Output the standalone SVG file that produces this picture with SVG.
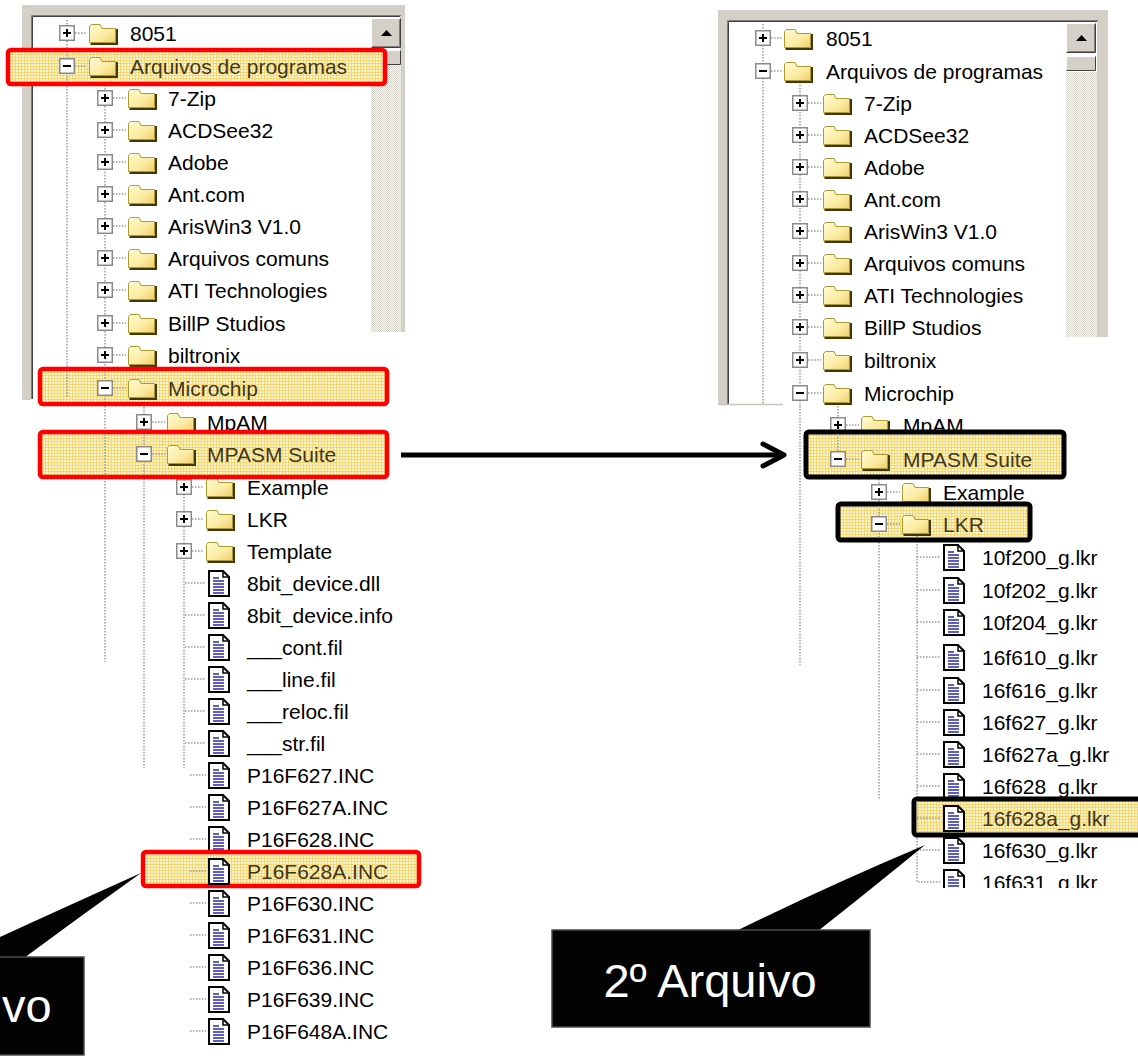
<svg xmlns="http://www.w3.org/2000/svg" xmlns:xlink="http://www.w3.org/1999/xlink" width="1138" height="1056" viewBox="0 0 1138 1056">
<style>
.t{font-family:"Liberation Sans",Arial,sans-serif;font-size:21px;fill:#000}
.th{fill:#3e381c}
.dl{stroke:#9a9a9a;stroke-width:1.5;stroke-dasharray:1.5 1.5;fill:none}
.rb{fill:url(#hl);stroke:#ff0000;stroke-width:4.5}
.bb{fill:url(#hl);stroke:#000;stroke-width:5}
.co{font-family:"Liberation Sans",Arial,sans-serif;font-size:47px;fill:#fff}
.gray{fill:#d4d0c8}
.cal{fill:#030303;stroke:#4a4a4a;stroke-width:1.5}
</style>
<defs>
<pattern id="hl" width="3" height="3" patternUnits="userSpaceOnUse"><rect width="3" height="3" fill="#fff6d2"/><rect width="3" height="1" fill="#f7d672"/><rect width="1" height="3" fill="#f7d672"/></pattern>
<pattern id="ck" width="2" height="2" patternUnits="userSpaceOnUse"><rect width="2" height="2" fill="#fff"/><rect width="1" height="1" fill="#d4d0c8"/><rect x="1" y="1" width="1" height="1" fill="#d4d0c8"/></pattern>
<linearGradient id="fg" x1="0" y1="0" x2="1" y2="1"><stop offset="0" stop-color="#fffcd4"/><stop offset="0.6" stop-color="#fbeaa0"/><stop offset="1" stop-color="#efcf6c"/></linearGradient>
<marker id="ah" viewBox="0 0 30 30" refX="26" refY="15" markerWidth="30" markerHeight="30" markerUnits="userSpaceOnUse" orient="auto"><path d="M5 4 L26 15 L5 26" fill="none" stroke="#000" stroke-width="5" stroke-linecap="round" stroke-linejoin="round"/></marker>
<g id="pl"><rect x="0.75" y="0.75" width="14.5" height="14.5" fill="#fff" stroke="#8a8a8a" stroke-width="1.5"/><path d="M4 8H12M8 4V12" stroke="#000" stroke-width="2"/></g>
<g id="mi"><rect x="0.75" y="0.75" width="14.5" height="14.5" fill="#fff" stroke="#8a8a8a" stroke-width="1.5"/><path d="M4 8H12" stroke="#000" stroke-width="2"/></g>
<g id="fd"><path d="M1.5 5.5 V21.5 H27.5 V7.5 H14 L12 3.5 H3.5 Z" fill="url(#fg)" stroke="#b09a30" stroke-width="1"/><path d="M2.5 23 H29 V8" fill="none" stroke="#3f3800" stroke-width="2"/></g>
<g id="fi"><path d="M1 1 H15 L21 7 V26 H1 Z" fill="#fff" stroke="#000" stroke-width="2"/><path d="M15 1 V7 H21" fill="none" stroke="#000" stroke-width="1.5"/><path d="M5 8H11M5 11H16M5 14H16M5 17H16M5 20H16M5 23H16" stroke="#2a2aa8" stroke-width="1.5"/></g>
<g id="btn"><rect width="30" height="30" fill="#d4d0c8"/><path d="M0.5 29.5V0.5H29.5" stroke="#fff" fill="none"/><path d="M0.5 29.5H29.5V0.5" stroke="#404040" fill="none"/><path d="M1.5 28.5H28.5V1.5" stroke="#808080" fill="none"/><path d="M10 18H21L15.5 12Z" fill="#000"/></g>
<g id="thumb"><rect width="30" height="15" fill="#d4d0c8"/><path d="M0.5 14.5V0.5H29.5" stroke="#fff" fill="none"/><path d="M0.5 14.5H29.5V0.5" stroke="#404040" fill="none"/></g>
<clipPath id="rclip"><rect x="700" y="0" width="438" height="888"/></clipPath>
</defs>
<rect width="1138" height="1056" fill="#fff"/>

<!-- LEFT WINDOW FRAME -->
<g id="left-window">
<rect class="gray" x="22" y="5" width="383" height="10"/>
<rect class="gray" x="22" y="5" width="9" height="395"/>
<rect class="gray" x="400" y="5" width="5" height="327"/>
<path d="M31.5 399V15.5H401" stroke="#808080" fill="none"/>
<path d="M32.5 399V16.5H400" stroke="#404040" fill="none"/>
<use href="#btn" x="371" y="18"/>
<use href="#thumb" x="371" y="50"/>
<rect x="371" y="65" width="30" height="267" fill="url(#ck)"/>
</g>

<!-- RIGHT WINDOW FRAME -->
<g id="right-window">
<rect class="gray" x="718" y="10" width="390" height="10"/>
<rect class="gray" x="718" y="10" width="9" height="395"/>
<rect class="gray" x="1097" y="10" width="11" height="327"/>
<path d="M727.5 405V20.5H1098" stroke="#808080" fill="none"/>
<path d="M728.5 405V21.5H1097" stroke="#404040" fill="none"/>
<path d="M718 404.5H783" stroke="#c8c4bc" stroke-width="1.5"/>
<use href="#btn" x="1066" y="23"/>
<use href="#thumb" x="1066" y="56"/>
<rect x="1066" y="72" width="31" height="265" fill="url(#ck)"/>
</g>

<!-- LEFT TREE -->
<g id="left-tree">
<g id="left-tree-lines">
<path class="dl" d="M67 20V398M105 76V662M144 398V768M184 464V768"/>
</g>
<g id="l-8051"><use href="#pl" x="59" y="25"/><path class="dl" d="M75 33H87"/><use href="#fd" x="88" y="21"/><text class="t" x="130" y="41">8051</text></g>
<g id="l-7zip"><use href="#pl" x="97" y="90"/><path class="dl" d="M113 98H126"/><use href="#fd" x="127" y="86"/><text class="t" x="168" y="106">7-Zip</text></g>
<g id="l-acdsee"><use href="#pl" x="97" y="122"/><path class="dl" d="M113 130H126"/><use href="#fd" x="127" y="118"/><text class="t" x="168" y="138">ACDSee32</text></g>
<g id="l-adobe"><use href="#pl" x="97" y="154"/><path class="dl" d="M113 162H126"/><use href="#fd" x="127" y="150"/><text class="t" x="168" y="170">Adobe</text></g>
<g id="l-antcom"><use href="#pl" x="97" y="186"/><path class="dl" d="M113 194H126"/><use href="#fd" x="127" y="182"/><text class="t" x="168" y="202">Ant.com</text></g>
<g id="l-ariswin"><use href="#pl" x="97" y="218"/><path class="dl" d="M113 226H126"/><use href="#fd" x="127" y="214"/><text class="t" x="168" y="234">ArisWin3 V1.0</text></g>
<g id="l-arqcomuns"><use href="#pl" x="97" y="250"/><path class="dl" d="M113 258H126"/><use href="#fd" x="127" y="246"/><text class="t" x="168" y="266">Arquivos comuns</text></g>
<g id="l-ati"><use href="#pl" x="97" y="282"/><path class="dl" d="M113 290H126"/><use href="#fd" x="127" y="278"/><text class="t" x="168" y="298">ATI Technologies</text></g>
<g id="l-billp"><use href="#pl" x="97" y="315"/><path class="dl" d="M113 323H126"/><use href="#fd" x="127" y="311"/><text class="t" x="168" y="331">BillP Studios</text></g>
<g id="l-biltronix"><use href="#pl" x="97" y="347"/><path class="dl" d="M113 355H126"/><use href="#fd" x="127" y="343"/><text class="t" x="168" y="363">biltronix</text></g>
<g id="l-mpam"><use href="#pl" x="136" y="414"/><path class="dl" d="M152 422H165"/><use href="#fd" x="166" y="410"/><text class="t" x="207" y="430">MpAM</text></g>
<g id="l-example"><use href="#pl" x="176" y="479"/><path class="dl" d="M192 487H204"/><use href="#fd" x="205" y="475"/><text class="t" x="247" y="495">Example</text></g>
<g id="l-lkr"><use href="#pl" x="176" y="511"/><path class="dl" d="M192 519H204"/><use href="#fd" x="205" y="507"/><text class="t" x="247" y="527">LKR</text></g>
<g id="l-template"><use href="#pl" x="176" y="543"/><path class="dl" d="M192 551H204"/><use href="#fd" x="205" y="539"/><text class="t" x="247" y="559">Template</text></g>
<g id="l-dll"><path class="dl" d="M185 583H206"/><use href="#fi" x="208" y="570"/><text class="t" x="247" y="591">8bit_device.dll</text></g>
<g id="l-info"><path class="dl" d="M185 615H206"/><use href="#fi" x="208" y="602"/><text class="t" x="247" y="623">8bit_device.info</text></g>
<g id="l-cont"><path class="dl" d="M185 647H206"/><use href="#fi" x="208" y="634"/><text class="t" x="247" y="655">___cont.fil</text></g>
<g id="l-line"><path class="dl" d="M185 679H206"/><use href="#fi" x="208" y="666"/><text class="t" x="247" y="687">___line.fil</text></g>
<g id="l-reloc"><path class="dl" d="M185 711H206"/><use href="#fi" x="208" y="698"/><text class="t" x="247" y="719">___reloc.fil</text></g>
<g id="l-str"><path class="dl" d="M185 743H206"/><use href="#fi" x="208" y="730"/><text class="t" x="247" y="751">___str.fil</text></g>
<g id="l-p627"><path class="dl" d="M190 775H206"/><use href="#fi" x="208" y="762"/><text class="t" x="247" y="783">P16F627.INC</text></g>
<g id="l-p627a"><path class="dl" d="M190 807H206"/><use href="#fi" x="208" y="794"/><text class="t" x="247" y="815">P16F627A.INC</text></g>
<g id="l-p628"><path class="dl" d="M190 839H206"/><use href="#fi" x="208" y="826"/><text class="t" x="247" y="847">P16F628.INC</text></g>
<g id="l-p630"><path class="dl" d="M190 903H206"/><use href="#fi" x="208" y="890"/><text class="t" x="247" y="911">P16F630.INC</text></g>
<g id="l-p631"><path class="dl" d="M190 935H206"/><use href="#fi" x="208" y="922"/><text class="t" x="247" y="943">P16F631.INC</text></g>
<g id="l-p636"><path class="dl" d="M190 967H206"/><use href="#fi" x="208" y="954"/><text class="t" x="247" y="975">P16F636.INC</text></g>
<g id="l-p639"><path class="dl" d="M190 999H206"/><use href="#fi" x="208" y="986"/><text class="t" x="247" y="1007">P16F639.INC</text></g>
<g id="l-p648a"><path class="dl" d="M190 1031H206"/><use href="#fi" x="208" y="1018"/><text class="t" x="247" y="1039">P16F648A.INC</text></g>
</g>

<!-- RIGHT TREE -->
<g id="right-tree" clip-path="url(#rclip)">
<g id="right-tree-lines">
<path class="dl" d="M763 24V404M800 82V665M838 403V459M879 470V800M917 535V882H940"/>
</g>
<g id="r-8051"><use href="#pl" x="755" y="30"/><path class="dl" d="M771 38H782"/><use href="#fd" x="783" y="26"/><text class="t" x="826" y="46">8051</text></g>
<g id="r-arqprog"><use href="#mi" x="755" y="63"/><path class="dl" d="M771 71H782"/><use href="#fd" x="783" y="59"/><text class="t" x="826" y="79">Arquivos de programas</text></g>
<g id="r-7zip"><use href="#pl" x="792" y="95"/><path class="dl" d="M808 103H821"/><use href="#fd" x="822" y="91"/><text class="t" x="864" y="111">7-Zip</text></g>
<g id="r-acdsee"><use href="#pl" x="792" y="127"/><path class="dl" d="M808 135H821"/><use href="#fd" x="822" y="123"/><text class="t" x="864" y="143">ACDSee32</text></g>
<g id="r-adobe"><use href="#pl" x="792" y="159"/><path class="dl" d="M808 167H821"/><use href="#fd" x="822" y="155"/><text class="t" x="864" y="175">Adobe</text></g>
<g id="r-antcom"><use href="#pl" x="792" y="191"/><path class="dl" d="M808 199H821"/><use href="#fd" x="822" y="187"/><text class="t" x="864" y="207">Ant.com</text></g>
<g id="r-ariswin"><use href="#pl" x="792" y="223"/><path class="dl" d="M808 231H821"/><use href="#fd" x="822" y="219"/><text class="t" x="864" y="239">ArisWin3 V1.0</text></g>
<g id="r-arqcomuns"><use href="#pl" x="792" y="255"/><path class="dl" d="M808 263H821"/><use href="#fd" x="822" y="251"/><text class="t" x="864" y="271">Arquivos comuns</text></g>
<g id="r-ati"><use href="#pl" x="792" y="287"/><path class="dl" d="M808 295H821"/><use href="#fd" x="822" y="283"/><text class="t" x="864" y="303">ATI Technologies</text></g>
<g id="r-billp"><use href="#pl" x="792" y="319"/><path class="dl" d="M808 327H821"/><use href="#fd" x="822" y="315"/><text class="t" x="864" y="335">BillP Studios</text></g>
<g id="r-biltronix"><use href="#pl" x="792" y="352"/><path class="dl" d="M808 360H821"/><use href="#fd" x="822" y="348"/><text class="t" x="864" y="368">biltronix</text></g>
<g id="r-microchip"><use href="#mi" x="792" y="385"/><path class="dl" d="M808 393H821"/><use href="#fd" x="822" y="381"/><text class="t" x="864" y="401">Microchip</text></g>
<g id="r-mpam"><use href="#pl" x="830" y="417"/><path class="dl" d="M846 425H859"/><use href="#fd" x="860" y="413"/><text class="t" x="903" y="433">MpAM</text></g>
<g id="r-example"><use href="#pl" x="871" y="484"/><path class="dl" d="M887 492H900"/><use href="#fd" x="901" y="480"/><text class="t" x="943" y="500">Example</text></g>
<g id="r-10f200"><path class="dl" d="M917 557H940"/><use href="#fi" x="943" y="544"/><text class="t" x="982" y="565">10f200_g.lkr</text></g>
<g id="r-10f202"><path class="dl" d="M917 590H940"/><use href="#fi" x="943" y="577"/><text class="t" x="982" y="598">10f202_g.lkr</text></g>
<g id="r-10f204"><path class="dl" d="M917 622H940"/><use href="#fi" x="943" y="609"/><text class="t" x="982" y="630">10f204_g.lkr</text></g>
<g id="r-16f610"><path class="dl" d="M917 657H940"/><use href="#fi" x="943" y="644"/><text class="t" x="982" y="665">16f610_g.lkr</text></g>
<g id="r-16f616"><path class="dl" d="M917 690H940"/><use href="#fi" x="943" y="677"/><text class="t" x="982" y="698">16f616_g.lkr</text></g>
<g id="r-16f627"><path class="dl" d="M917 722H940"/><use href="#fi" x="943" y="709"/><text class="t" x="982" y="730">16f627_g.lkr</text></g>
<g id="r-16f627a"><path class="dl" d="M917 754H940"/><use href="#fi" x="943" y="741"/><text class="t" x="982" y="762">16f627a_g.lkr</text></g>
<g id="r-16f628"><path class="dl" d="M917 786H940"/><use href="#fi" x="943" y="773"/><text class="t" x="982" y="794">16f628_g.lkr</text></g>
<g id="r-16f630"><path class="dl" d="M917 850H940"/><use href="#fi" x="943" y="837"/><text class="t" x="982" y="858">16f630_g.lkr</text></g>
<g id="r-16f631"><use href="#fi" x="943" y="869"/><text class="t" x="982" y="890">16f631_g.lkr</text></g>
</g>

<!-- HIGHLIGHTED NODES (LEFT, red) -->
<g id="l-arqprog">
<rect class="rb" x="8" y="50" width="377" height="34" rx="3"/>
<path class="dl" d="M67 52V82"/><use href="#mi" x="59" y="58"/><path class="dl" d="M75 66H87"/><use href="#fd" x="88" y="54"/><text class="t th" x="130" y="74">Arquivos de programas</text>
</g>
<g id="l-microchip">
<rect class="rb" x="40" y="369" width="347" height="35" rx="3"/>
<path class="dl" d="M67 371V398M105 371V402"/><use href="#mi" x="97" y="380"/><path class="dl" d="M113 388H126"/><use href="#fd" x="127" y="376"/><text class="t th" x="168" y="396">Microchip</text>
</g>
<g id="l-mpasm">
<rect class="rb" x="40" y="432" width="347" height="45" rx="3"/>
<path class="dl" d="M105 434V475M144 434V475"/><use href="#mi" x="136" y="446"/><path class="dl" d="M152 454H165"/><use href="#fd" x="166" y="442"/><text class="t th" x="207" y="462">MPASM Suite</text>
</g>
<g id="l-p628a">
<rect class="rb" x="143" y="852" width="276" height="34" rx="3"/>
<path class="dl" d="M190 871H206"/><use href="#fi" x="208" y="858"/><text class="t th" x="247" y="879">P16F628A.INC</text>
</g>

<!-- HIGHLIGHTED NODES (RIGHT, black) -->
<g id="r-mpasm">
<rect class="bb" x="806" y="432" width="258" height="45" rx="3"/>
<path class="dl" d="M838 434V459"/><use href="#mi" x="830" y="451"/><path class="dl" d="M846 459H859"/><use href="#fd" x="860" y="447"/><text class="t th" x="903" y="467">MPASM Suite</text>
</g>
<g id="r-lkr">
<rect class="bb" x="838" y="504" width="192" height="36" rx="3"/>
<path class="dl" d="M879 506V538M917 530V538"/><use href="#mi" x="871" y="516"/><path class="dl" d="M887 524H900"/><use href="#fd" x="901" y="512"/><text class="t th" x="943" y="532">LKR</text>
</g>
<g id="r-16f628a">
<rect class="bb" x="914" y="799" width="230" height="36" rx="3"/>
<path class="dl" d="M917 801V833M917 818H940"/><use href="#fi" x="943" y="805"/><text class="t th" x="982" y="826">16f628a_g.lkr</text>
</g>

<!-- CONNECTORS -->
<g id="connectors">
<path d="M401 455 H784" stroke="#000" stroke-width="5" fill="none" marker-end="url(#ah)"/>
</g>

<!-- CALLOUTS -->
<g id="callout-1">
<path d="M0 937 Q72 904 141 873 Q82 915 24 958 L0 958 Z" fill="#030303"/>
<rect class="cal" x="-10" y="957" width="94" height="98"/>
<text class="co" x="2" y="1022">vo</text>
</g>
<g id="callout-2">
<path d="M736 931 Q830 885 925 845 Q870 890 818 931 Z" fill="#030303"/>
<rect class="cal" x="552" y="930" width="318" height="97"/>
<text class="co" x="710" y="997" text-anchor="middle">2º Arquivo</text>
</g>
</svg>
